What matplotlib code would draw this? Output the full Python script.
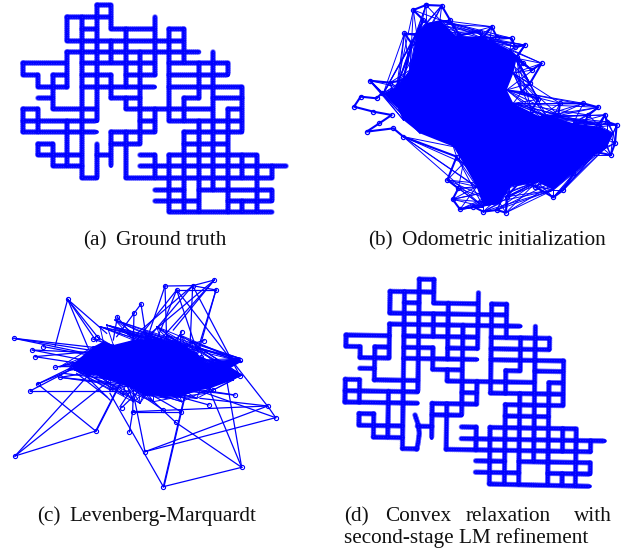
import matplotlib
matplotlib.use("Agg")
import matplotlib.pyplot as plt

BLUE = "#0000ff"
FIG_W, FIG_H = 621, 548

# -------------------------------
# DATA: GRID MAP (panels a and d)
# -------------------------------

# horizontal corridors: (row, first column, last column)
h_segments = [
    (0, 5, 6), (1, 3, 6), (2, 4, 5), (2, 6, 9), (2, 10, 11), (3, 3, 11), (4, 3, 12),
    (5, 0, 3), (5, 4, 9), (5, 10, 14), (6, 0, 1), (6, 2, 3), (6, 4, 6), (6, 7, 9), (6, 10, 14),
    (7, 1, 3), (7, 4, 9), (7, 10, 15), (8, 1, 2), (8, 6, 8), (8, 11, 12), (8, 13, 15),
    (9, 0, 1), (9, 2, 5), (9, 7, 13), (9, 14, 15), (10, 0, 5), (10, 8, 9), (10, 10, 15),
    (11, 0, 5), (11, 6, 9), (11, 11, 15), (12, 1, 2), (12, 6, 8), (12, 11, 14),
    (13, 1, 4), (13, 5, 6), (13, 8, 9), (13, 10, 16), (14, 2, 4), (14, 8, 18),
    (15, 4, 5), (15, 7, 17), (16, 9, 11), (16, 12, 17), (17, 9, 12), (17, 14, 17), (18, 10, 17),
]

# vertical corridors: (column, first row, last row)
v_segments = [
    (0, 5, 6), (0, 9, 11), (1, 6, 7), (1, 9, 11), (1, 12, 13), (2, 6, 9), (2, 12, 14),
    (3, 1, 3), (3, 4, 7), (3, 10, 14), (4, 1, 15), (5, 0, 10), (5, 12, 15),
    (6, 0, 2), (6, 3, 5), (6, 6, 8), (6, 11, 14), (7, 2, 7), (7, 8, 9), (7, 11, 15),
    (8, 4, 12), (9, 1, 6), (9, 9, 11), (9, 13, 15), (10, 2, 10), (10, 13, 18),
    (11, 2, 5), (11, 8, 10), (11, 11, 18), (12, 5, 8), (12, 10, 18), (13, 4, 16),
    (14, 5, 6), (14, 9, 18), (15, 7, 11), (15, 13, 15), (15, 17, 18), (16, 13, 18),
    (17, 14, 15), (17, 16, 17),
]

a_col_x = [40, 84, 128, 172, 216, 260, 303, 347, 391, 435, 478, 522, 566, 610, 653, 697, 741, 785, 828]
a_row_y = [16, 52, 88, 122, 156, 190, 225, 260, 294, 328, 362, 397, 432, 465, 499, 535, 569, 603, 637]

d_col_top = [36, 79, 123, 166, 209, 253, 297, 341, 386, 431, 471, 516, 559, 603, 646, 689, 731, 774, 816]
d_col_bottom = [26, 69, 113, 156, 201, 245, 288, 332, 377, 421, 463, 508, 551, 595, 638, 681, 721, 765, 808]
d_row_left = [24, 62, 95, 127, 160, 195, 229, 262, 294, 328, 362, 396, 430, 465, 500, 533, 566, 600, 632]
d_row_right = [37, 75, 108, 140, 173, 208, 242, 275, 307, 341, 375, 409, 443, 478, 513, 546, 579, 613, 650]

# the bent corridor in panel d
d_bent_x = [240, 250, 253, 249, 245]
d_bent_y = [435, 465, 490, 520, 538]

# -------------------------------
# DATA: ODOMETRIC TANGLE (panel b)
# -------------------------------

b_x = [258, 305, 330, 358, 420, 428, 455, 470, 515, 525, 555, 530, 550, 575, 605, 570, 545, 595, 575, 620,
       655, 660, 730, 775, 745, 735, 775, 795, 800, 830, 825, 812, 760, 730, 700, 670, 640, 585, 540, 500,
       498, 470, 430, 400, 360, 338, 355, 322, 350, 190, 160, 80, 118, 155, 100, 42, 62, 110, 125, 90,
       150, 190, 215, 193, 228, 250, 220]
b_y = [15, 17, 60, 105, 95, 115, 80, 110, 115, 140, 135, 170, 190, 210, 190, 250, 275, 298, 330, 350,
       345, 310, 310, 322, 345, 365, 375, 345, 365, 375, 430, 465, 455, 485, 520, 570, 592, 560, 545, 590,
       638, 630, 635, 620, 628, 598, 565, 540, 470, 410, 385, 395, 370, 345, 335, 320, 290, 295, 280, 242,
       248, 240, 130, 100, 105, 60, 30]

# outline points of the loose chain on the left, no fan of lines runs to them
b_loose = [50, 51, 52, 53, 54, 55, 56, 57]

b_core_x = [230, 260, 300, 350, 420, 450, 510, 530, 520, 500, 520, 600, 640, 700, 780, 820, 800, 760, 710, 640,
            590, 510, 480, 430, 410, 370, 340, 240, 190, 170, 130, 170, 210]
b_core_y = [100, 70, 60, 110, 110, 120, 150, 175, 220, 270, 310, 350, 350, 370, 380, 400, 440, 465, 510, 570,
            545, 560, 610, 620, 560, 490, 440, 400, 360, 320, 280, 260, 210]

# -------------------------------
# DATA: LEVENBERG-MARQUARDT (panel c)
# -------------------------------

c_node_x = [203, 495, 578, 643, 648, 530, 423, 402, 352, 42, 97, 105, 130, 165, 180, 113, 90, 278, 290,
            612, 603, 720, 720, 705, 640, 545, 45, 287, 435, 490, 725, 827, 803, 527, 388, 398, 543, 490, 627, 365]
c_node_y = [88, 48, 47, 30, 60, 60, 102, 128, 141, 205, 240, 260, 230, 292, 322, 342, 363, 207, 200,
            212, 260, 270, 318, 375, 360, 185, 558, 483, 545, 650, 592, 443, 408, 457, 486, 425, 425, 420, 405, 413]

# edges: x0, y0, x1, y1
c_edges = [
    (203, 88, 165, 230), (203, 88, 265, 235), (203, 88, 300, 210), (203, 88, 320, 190), (203, 88, 290, 215),
    (42, 205, 300, 245), (42, 205, 260, 250), (42, 205, 280, 232), (97, 240, 320, 250), (105, 260, 320, 240),
    (130, 230, 320, 265), (165, 292, 320, 260), (97, 240, 300, 280), (105, 260, 300, 290),
    (90, 363, 380, 363), (90, 363, 230, 290), (113, 342, 287, 483), (113, 342, 240, 280), (113, 342, 245, 285),
    (287, 483, 45, 558), (287, 483, 360, 340), (289, 483, 362, 340), (45, 558, 330, 330), (45, 558, 270, 310),
    (435, 545, 827, 443), (435, 545, 803, 408), (435, 545, 400, 370), (388, 486, 398, 425),
    (330, 370, 490, 650), (490, 650, 725, 592), (490, 650, 560, 350), (492, 650, 562, 350),
    (725, 592, 527, 457), (527, 457, 450, 385), (725, 592, 620, 340), (725, 592, 680, 330),
    (827, 443, 803, 408), (803, 408, 600, 385), (827, 443, 620, 370), (398, 425, 543, 425), (398, 425, 803, 408),
    (398, 425, 400, 360), (543, 425, 430, 360), (490, 420, 400, 360), (627, 405, 500, 370), (365, 413, 430, 350),
    (495, 48, 578, 47), (578, 47, 648, 60), (530, 60, 648, 60), (643, 30, 440, 200), (643, 30, 520, 180),
    (643, 30, 578, 47), (648, 60, 600, 230), (648, 60, 590, 250), (495, 48, 440, 210), (495, 48, 500, 210),
    (530, 60, 590, 240), (530, 60, 800, 405), (578, 47, 570, 230), (578, 47, 400, 200), (578, 47, 720, 318),
    (578, 47, 440, 210), (530, 60, 410, 210), (530, 60, 470, 210), (643, 30, 480, 210),
    (423, 102, 350, 200), (423, 102, 440, 210), (402, 128, 400, 210), (352, 141, 400, 200), (352, 141, 340, 210),
    (180, 322, 400, 345), (180, 322, 530, 370), (180, 322, 320, 300), (190, 310, 700, 375),
    (612, 212, 520, 235), (603, 260, 560, 260), (720, 270, 620, 280), (705, 375, 540, 350), (640, 360, 540, 340),
    (545, 185, 520, 230), (278, 207, 350, 230), (290, 200, 350, 235), (720, 318, 640, 340),
    (320, 380, 230, 310), (330, 390, 260, 320), (360, 410, 400, 350),
]

c_core_x = [215, 280, 310, 340, 400, 470, 540, 590, 615, 720, 725, 690, 725, 700, 630, 600, 540, 430, 380, 300, 225]
c_core_y = [285, 230, 215, 225, 210, 205, 220, 250, 278, 265, 275, 295, 315, 330, 355, 360, 380, 375, 345, 320, 300]

# short ragged ends around the dense middle
c_fringe_x = [300, 320, 345, 380, 430, 470, 500, 540, 575, 600, 650, 700, 620, 590, 545, 500, 460, 420, 400, 370, 330, 260, 205, 180]
c_fringe_y = [170, 165, 150, 190, 185, 170, 195, 195, 215, 235, 270, 310, 370, 385, 395, 385, 395, 400, 395, 375, 360, 315, 300, 290]


# -------------------------------
# DRAWING HELPERS
# -------------------------------

def panel_axes(left, top, right, bottom):
    # axes placed by pixel box, data coordinates are 3x pixels from that corner
    ax = fig.add_axes([left / FIG_W, 1 - bottom / FIG_H, (right - left) / FIG_W, (bottom - top) / FIG_H])
    ax.set_xlim(0, (right - left) * 3)
    ax.set_ylim((bottom - top) * 3, 0)
    ax.axis("off")
    return ax


def draw_corridor(ax, xs, ys, core=2.7, dots=4.0):
    ax.plot(xs, ys, color=BLUE, lw=core, solid_capstyle="round")
    ax.plot(xs, ys, color=BLUE, lw=dots, alpha=0.55, linestyle=(0, (0.01, 0.36)), dash_capstyle="round")
    # pale speckle of the overlapping ring markers
    ax.plot(xs, ys, color="white", lw=0.7, alpha=0.22, linestyle=(0, (0.01, 2.6)), dash_capstyle="round")


def radial_bundle(ax, xs, ys, core_x, core_y, offsets, lw, skip=()):
    # join each outer point to the dense middle, at the matching place round it
    n = len(xs)
    m = len(core_x)
    for k in range(n):
        if k in skip:
            continue
        for off in offsets:
            q = (round(k * m / n) + off) % m
            ax.plot([xs[k], core_x[q]], [ys[k], core_y[q]], color=BLUE, lw=lw)


fig = plt.figure(figsize=(FIG_W / 100, FIG_H / 100), dpi=100)

# -------------------------------
# PANEL A: GROUND TRUTH
# -------------------------------

ax_a = panel_axes(10, 0, 300, 220)
for row, c0, c1 in h_segments:
    draw_corridor(ax_a, [a_col_x[c0], a_col_x[c1]], [a_row_y[row], a_row_y[row]])
for col, r0, r1 in v_segments:
    draw_corridor(ax_a, [a_col_x[col], a_col_x[col]], [a_row_y[r0], a_row_y[r1]])

# -------------------------------
# PANEL B: ODOMETRIC INITIALIZATION
# -------------------------------

ax_b = panel_axes(340, 0, 621, 220)
ax_b.fill(b_core_x, b_core_y, color=BLUE, lw=0)
radial_bundle(ax_b, b_x, b_y, b_core_x, b_core_y, (-2, -1, 0, 1, 2), 0.7, skip=b_loose)
ax_b.plot(b_x + b_x[:1], b_y + b_y[:1], color=BLUE, lw=1.5, marker="o", ms=3.0, mfc="none", mew=0.9)

# -------------------------------
# PANEL C: LEVENBERG-MARQUARDT
# -------------------------------

ax_c = panel_axes(0, 270, 300, 500)
ax_c.fill(c_core_x, c_core_y, color=BLUE, lw=0)
radial_bundle(ax_c, c_fringe_x, c_fringe_y, c_core_x, c_core_y, (2, 4, 6, 8, 10, 12), 0.7)
for x0, y0, x1, y1 in c_edges:
    ax_c.plot([x0, x1], [y0, y1], color=BLUE, lw=0.9)
ax_c.plot(c_node_x, c_node_y, linestyle="none", marker="o", ms=3.0, mfc="none", mec=BLUE, mew=0.8)

# -------------------------------
# PANEL D: CONVEX RELAXATION
# -------------------------------

ax_d = panel_axes(335, 270, 621, 500)


def d_point(col, row):
    # tilted grid, top/bottom and left/right edges of each line
    x = d_col_top[col] + (d_col_bottom[col] - d_col_top[col]) * row / 18
    y = d_row_left[row] + (d_row_right[row] - d_row_left[row]) * col / 18
    return x, y


for row, c0, c1 in h_segments:
    p0, p1 = d_point(c0, row), d_point(c1, row)
    draw_corridor(ax_d, [p0[0], p1[0]], [p0[1], p1[1]])
for col, r0, r1 in v_segments:
    if (col, r0, r1) == (5, 12, 15):
        continue
    p0, p1 = d_point(col, r0), d_point(col, r1)
    draw_corridor(ax_d, [p0[0], p1[0]], [p0[1], p1[1]])
draw_corridor(ax_d, d_bent_x, d_bent_y)

# -------------------------------
# CAPTIONS
# -------------------------------

plt.rcParams["font.family"] = ["Liberation Serif", "DejaVu Serif"]
captions = [
    ("(a)", 83, 245), ("Ground truth", 116, 245),
    ("(b)", 368, 245), ("Odometric initialization", 402, 245),
    ("(c)", 37, 521), ("Levenberg-Marquardt", 69, 521),
    ("(d)", 344, 521), ("Convex", 385, 521), ("relaxation", 466, 521), ("with", 574, 521),
    ("second-stage LM refinement", 344, 543),
]
for text, px, py in captions:
    fig.text(px / FIG_W, 1 - py / FIG_H, text, fontsize=15.3, color="#111111", ha="left", va="baseline")

fig.savefig("out.png", dpi=100)
print("Saved: out.png")
